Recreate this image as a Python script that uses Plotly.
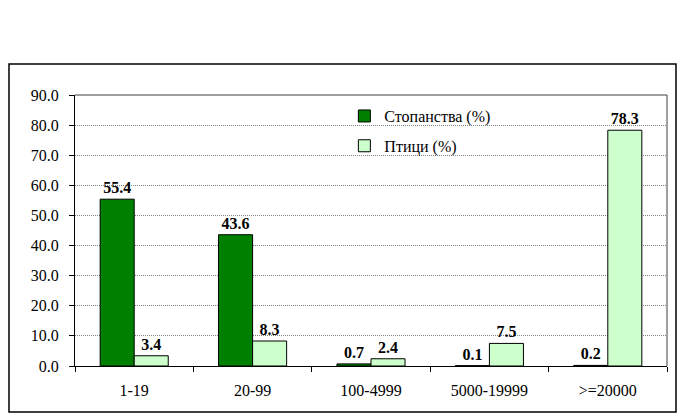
import plotly.graph_objects as go

# categories and values
categories = ["1-19", "20-99", "100-4999", "5000-19999", ">=20000"]
farms_pct = [55.4, 43.6, 0.7, 0.1, 0.2]
birds_pct = [3.4, 8.3, 2.4, 7.5, 78.3]

font_family = "Liberation Serif"

fig = go.Figure()
fig.add_trace(go.Bar(
    x=categories, y=farms_pct, name="Стопанства (%)",
    marker=dict(color="#008000", line=dict(color="black", width=1)),
    text=[f"{v:.1f}" for v in farms_pct], textposition="outside",
    textfont=dict(family=font_family, size=16, color="black"),
    texttemplate="<b>%{text}</b>", cliponaxis=False, legendgroup="a",
))
fig.add_trace(go.Bar(
    x=categories, y=birds_pct, name="Птици (%)",
    marker=dict(color="#CCFFCC", line=dict(color="black", width=1)),
    text=[f"{v:.1f}" for v in birds_pct], textposition="outside",
    textfont=dict(family=font_family, size=16, color="black"),
    texttemplate="<b>%{text}</b>", cliponaxis=False, legendgroup="b",
))

fig.update_layout(
    width=681, height=419,
    margin=dict(l=75, r=14, t=95, b=53),
    paper_bgcolor="white", plot_bgcolor="white",
    font=dict(family=font_family, size=16, color="black"),
    barmode="group", bargap=0.425, bargroupgap=0,
    showlegend=True,
    legend=dict(x=0.455, y=0.985, xanchor="left", yanchor="top",
                bgcolor="rgba(0,0,0,0)", tracegroupgap=6,
                font=dict(family=font_family, size=16)),
    modebar=dict(bgcolor="rgba(0,0,0,0)", color="rgba(0,0,0,0)",
                 activecolor="rgba(0,0,0,0)"),
)

fig.update_xaxes(
    type="category", showline=True, linecolor="black", linewidth=1,
    ticks="outside", ticklen=5, tickcolor="black", tickson="boundaries",
    showgrid=False, tickfont=dict(size=16), ticklabelstandoff=10,
)
fig.update_yaxes(
    range=[0, 90], dtick=10, tickformat=".1f",
    showline=True, linecolor="black", linewidth=1,
    ticks="outside", ticklen=5, tickcolor="black",
    showgrid=True, gridcolor="#808080", gridwidth=1, griddash="1px,1px",
    zeroline=False, tickfont=dict(size=16), ticklabelstandoff=7,
)

# plot area top/right edge
fig.add_shape(type="line", xref="paper", yref="paper", x0=0, x1=1, y0=1, y1=1,
              line=dict(color="#404040", width=1))
fig.add_shape(type="line", xref="paper", yref="paper", x0=1, x1=1, y0=0, y1=1,
              line=dict(color="#404040", width=1))
# white box behind the legend hides the gridlines
fig.add_shape(type="rect", xref="paper", yref="paper",
              x0=0.4476, x1=0.7635, y0=0.7417, y1=0.985,
              fillcolor="white", line=dict(width=0), layer="between")
# outer chart border
fig.add_shape(type="rect", xref="paper", yref="paper",
              x0=-0.1115, x1=1.0152, y0=-0.1697, y1=1.1144,
              line=dict(color="black", width=1.5), fillcolor="rgba(0,0,0,0)")

# drop the default 8px page margin and fade out the modebar
post = (
    "document.body.style.margin='0';"
    "var s=document.createElement('style');"
    "s.innerHTML='.modebar{opacity:0 !important;}';"
    "document.head.appendChild(s);"
)
fig.write_html("out.html", post_script=post)
